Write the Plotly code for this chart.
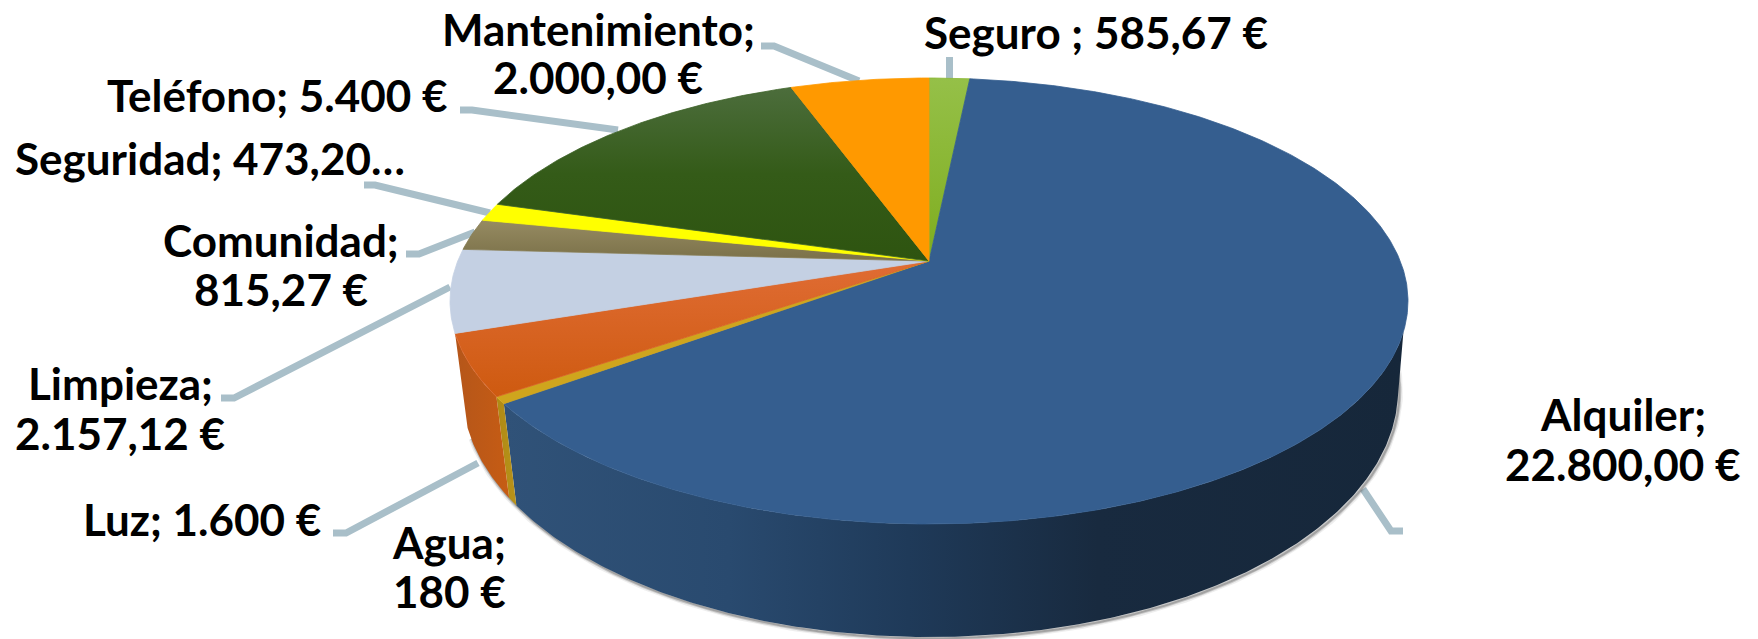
import numpy as np
import plotly.graph_objects as go

# ---- data (clockwise from 12 o'clock) ----
categories = ["Seguro", "Alquiler", "Agua", "Luz", "Limpieza", "Comunidad", "Seguridad", "Teléfono", "Mantenimiento"]
values = [585.67, 22800.00, 180.00, 1600.00, 2157.12, 815.27, 473.20, 5400.00, 2000.00]
label_lines = [
    ["Seguro ; 585,67 €"],
    ["Alquiler;", "22.800,00 €"],
    ["Agua;", "180 €"],
    ["Luz; 1.600 €"],
    ["Limpieza;", "2.157,12 €"],
    ["Comunidad;", "815,27 €"],
    ["Seguridad; 473,20…"],
    ["Teléfono; 5.400 €"],
    ["Mantenimiento;", "2.000,00 €"],
]

# ---- styles (gradient position 0 = bottom of the slice, 1 = top) ----
top_colors = [
    [[0, "#7FAD1F"], [1, "#95C048"]],
    [[0, "#355E8F"], [1, "#355E8F"]],
    [[0, "#CFA51D"], [1, "#CFA51D"]],
    [[0, "#CE5A10"], [1, "#E06C34"]],
    [[0, "#C4D0E3"], [1, "#C4D0E3"]],
    [[0, "#7A7048"], [1, "#968B62"]],
    [[0, "#FFFF00"], [1, "#FFFF00"]],
    [[0, "#2E5410"], [0.5, "#345B18"], [1, "#4C6D3C"]],
    [[0, "#FF9900"], [1, "#FF9900"]],
]
edge_colors = ["#8AB733", "#355E8F", "#CFA51D", "#D86328", "#C4D0E3", "#887E55", "#FFFF00", "#3E6328", "#FF9900"]
wall_colors = {
    "Alquiler": [[0, "#305278"], [0.25, "#294A6F"], [0.45, "#1F3A59"], [0.66, "#182A3F"], [1, "#16273A"]],
    "Agua": [[0, "#AE8A14"], [1, "#B8921A"]],
    "Luz": [[0, "#B5561A"], [1, "#C65C14"]],
}
LEADER = "#A9BFC9"
FONT = "Lato"
FONT_SIZE = 44

# pie geometry in pixels: perspective ellipse for the top and the base
TOP = dict(cx=929, cy=301, rx=479, ry=223, c=-0.179)
BASE = dict(cx=930, cy=390, rx=468, ry=247, c=-0.17)
WALL_TOP_START = 108.0   # degrees, silhouette tangents on the right
WALL_BASE_START = 102.0

# label placement: baseline y per line and centre x
label_x = [1096, 1623, 449, 202, 120, 281, 210, 277, 598]
label_base = [[46], [428, 478], [556, 605], [533], [397, 447], [254, 303], [172], [109], [43, 91]]

# leader polylines
leaders = [
    [(949.5, 57), (949.5, 79)],
    [(1403, 531), (1391, 531), (1363, 489)],
    [(333, 533), (346, 533), (478, 463)],
    [(221, 398), (234, 398), (450, 287)],
    [(406, 254), (419, 254), (475, 232)],
    [(364, 185), (375, 185), (490, 213)],
    [(460, 110), (472, 110), (618, 130)],
    [(761, 46), (774, 46), (859, 81)],
]


def project(theta_deg, g):
    t = np.radians(theta_deg)
    u, v = np.sin(t), -np.cos(t)
    w = 1 + g["c"] * v
    x = g["cx"] + g["rx"] * np.sqrt(1 - g["c"] ** 2) * u / w
    y = g["cy"] + g["ry"] * (v + g["c"]) / w
    return x, y


def arc(a, b, g):
    n = max(int(abs(b - a) * 2), 2)
    return project(np.linspace(a, b, n), g)


vals = np.array(values)
edges = np.concatenate([[0], np.cumsum(vals) / vals.sum() * 360])
fig = go.Figure()


def poly(xs, ys, name, colorscale, kind, edge=None):
    fig.add_trace(go.Scatter(
        x=xs, y=ys, mode="lines", fill="toself", name=name,
        line=dict(width=0.8, color=edge) if edge else dict(width=0), hoverinfo="name",
        fillgradient=dict(type=kind, colorscale=colorscale),
    ))


# leaders go beneath the pie
for pts in leaders:
    fig.add_trace(go.Scatter(x=[p[0] for p in pts], y=[p[1] for p in pts], mode="lines",
                             line=dict(color=LEADER, width=7), hoverinfo="skip"))

# soft shadow along the base edge
sx, sy = arc(edges[1] + 85, edges[4] - 2, BASE)
for width, alpha in [(7, 0.10), (4, 0.25), (2, 0.35)]:
    fig.add_trace(go.Scatter(x=sx + 1.5, y=sy + 1.5, mode="lines",
                             line=dict(color=f"rgba(90,90,90,{alpha})", width=width), hoverinfo="skip"))

# outer walls
for i, name in enumerate(categories):
    if name not in wall_colors:
        continue
    a, b = edges[i], edges[i + 1]
    if name == "Alquiler":
        tx, ty = arc(WALL_TOP_START, b, TOP)
        bx, by = arc(b, WALL_BASE_START, BASE)
    else:
        tx, ty = arc(a, b, TOP)
        bx, by = arc(b, a, BASE)
    poly(np.r_[tx, bx], np.r_[ty, by], name + " lateral", wall_colors[name], "horizontal")

# top faces
ax, ay = TOP["cx"], TOP["cy"] + TOP["ry"] * TOP["c"]
for i, name in enumerate(categories):
    tx, ty = arc(edges[i], edges[i + 1], TOP)
    poly(np.r_[ax, tx, ax], np.r_[ay, ty, ay], name, top_colors[i], "vertical", edge_colors[i])

annotations = []
for lines, x, bases in zip(label_lines, label_x, label_base):
    for line, base in zip(lines, bases):
        annotations.append(dict(
            x=x, y=base - 14, xref="x", yref="y", text=line, showarrow=False,
            xanchor="center", yanchor="middle",
            font=dict(family=FONT, size=FONT_SIZE, color="#000000", weight="bold"),
        ))

fig.update_layout(
    width=1758, height=639, margin=dict(l=0, r=0, t=0, b=0),
    paper_bgcolor="white", plot_bgcolor="white", showlegend=False,
    xaxis=dict(range=[0, 1758], visible=False, fixedrange=True),
    yaxis=dict(range=[639, 0], visible=False, fixedrange=True),
    annotations=annotations,
)
fig.write_html("out.html", config=dict(displayModeBar=False),
               post_script="document.body.style.margin='0';document.body.style.overflow='hidden';")
